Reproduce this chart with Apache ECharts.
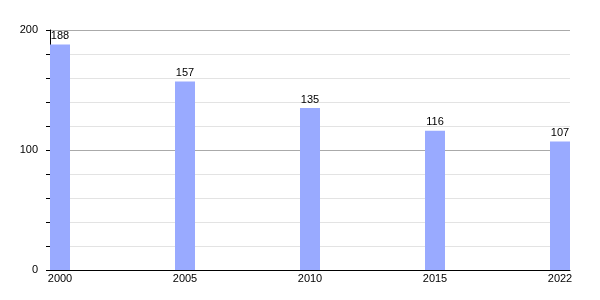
<!DOCTYPE html>
<html><head><meta charset="utf-8">
<script src="https://cdn.jsdelivr.net/npm/echarts@6/dist/echarts.min.js"></script>
<style>html,body{margin:0;padding:0;background:#fff}#c{width:600px;height:300px}</style>
</head><body><div id="c"></div>
<script>
const years = ['2000', '2005', '2010', '2015', '2022'];
const values = [188, 157, 135, 116, 107];
const yTicks = [0, 100, 200];

const chart = echarts.init(document.getElementById('c'), null, {renderer: 'canvas'});
const font = 'Liberation Sans, Arial, sans-serif';
chart.setOption({
  animation: false,
  grid: {left: 50, right: 30, top: 30, bottom: 30, containLabel: false},
  xAxis: {
    type: 'value', min: -0.08, max: years.length - 1 + 0.08,
    axisLine: {show: true, onZero: false, lineStyle: {color: '#000', width: 1}},
    axisTick: {show: false},
    splitLine: {show: false},
    axisLabel: {
      show: true, margin: 3, color: '#000', fontSize: 11, fontFamily: font,
      showMinLabel: false, showMaxLabel: false,
      formatter: v => (Math.abs(v - Math.round(v)) < 1e-6 && years[Math.round(v)]) ? years[Math.round(v)] : ''
    }
  },
  yAxis: {
    type: 'value', min: 0, max: 200, interval: 100,
    axisLine: {show: true, onZero: false, lineStyle: {color: '#000', width: 1}},
    axisTick: {show: true, length: 4, lineStyle: {color: '#000'}},
    minorTick: {show: true, splitNumber: 5, length: 4, lineStyle: {color: '#000'}},
    splitLine: {show: true, lineStyle: {color: '#aaaaaa', width: 1}},
    minorSplitLine: {show: true, lineStyle: {color: '#e3e3e3', width: 1}},
    axisLabel: {color: '#000', fontSize: 11, fontFamily: font, margin: 12,
      formatter: v => yTicks.includes(v) ? String(v) : ''}
  },
  series: [{
    type: 'bar',
    barWidth: 20,
    clip: false,
    itemStyle: {color: '#99aaff'},
    label: {show: true, position: 'top', distance: 3, color: '#000', fontSize: 11, fontFamily: font},
    data: values.map((v, i) => ({value: [i, v], label: {formatter: String(v)}}))
  }]
});
</script></body></html>
